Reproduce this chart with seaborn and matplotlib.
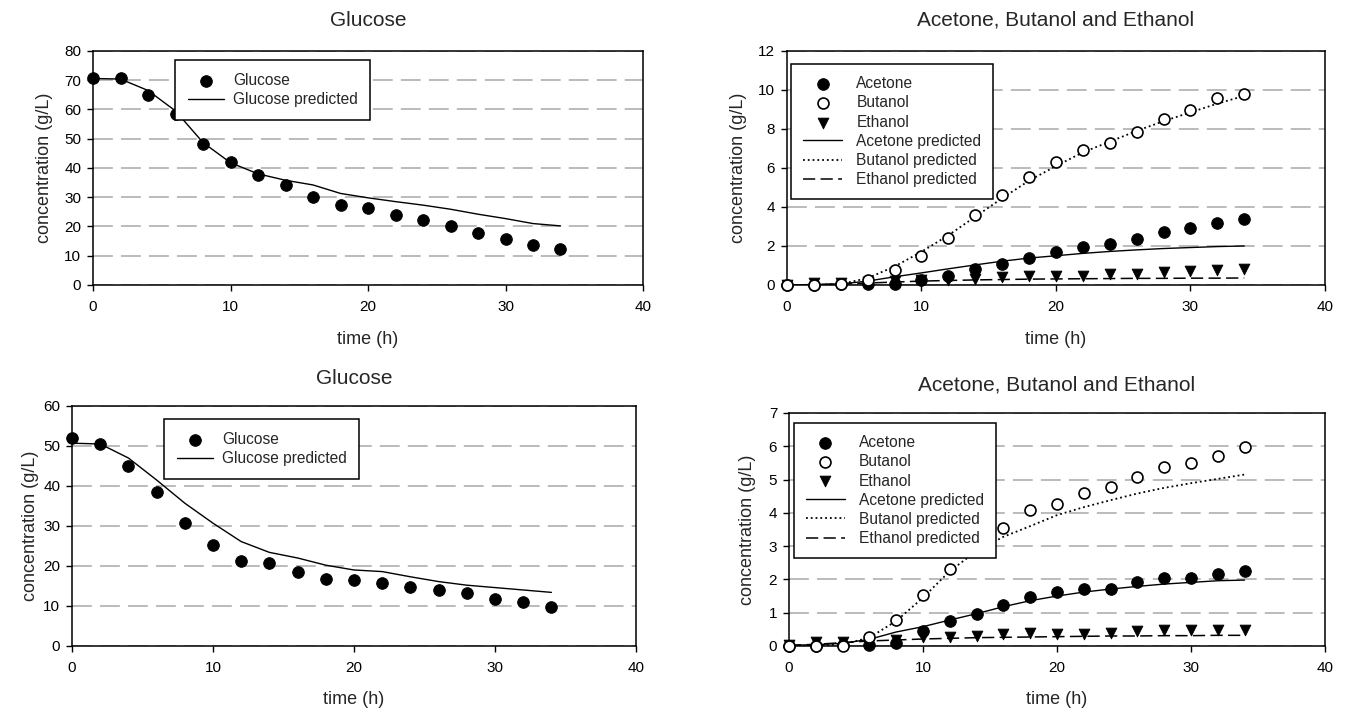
import matplotlib
matplotlib.use("Agg")
import matplotlib.pyplot as plt
import seaborn as sns

# tempo de fermentacao (h)
tempo = [0, 2, 4, 6, 8, 10, 12, 14, 16, 18, 20, 22, 24, 26, 28, 30, 32, 34]

# Ensaio 1 (graficos de cima)
glicose1 = [70.8, 70.8, 64.8, 58.3, 48.3, 42.0, 37.6, 34.1, 30.2, 27.3, 26.4, 23.8, 22.1, 20.0, 17.9, 15.6, 13.5, 12.2]
glicose1Pred = [70.6, 70.4, 66.5, 59.5, 48.7, 41.8, 38.0, 35.8, 34.2, 31.3, 29.8, 28.5, 27.3, 25.9, 24.2, 22.7, 21.0, 20.2]
acetona1 = [0.0, 0.0, 0.03, 0.05, 0.07, 0.25, 0.45, 0.8, 1.1, 1.4, 1.7, 1.95, 2.1, 2.35, 2.7, 2.9, 3.2, 3.4]
butanol1 = [0.0, 0.0, 0.05, 0.28, 0.75, 1.5, 2.4, 3.6, 4.6, 5.55, 6.3, 6.9, 7.3, 7.85, 8.5, 8.95, 9.6, 9.8]
etanol1 = [0.02, 0.12, 0.12, 0.15, 0.18, 0.25, 0.28, 0.32, 0.4, 0.46, 0.46, 0.46, 0.58, 0.55, 0.68, 0.7, 0.76, 0.82]
acetona1Pred = [0.0, 0.02, 0.05, 0.2, 0.42, 0.62, 0.83, 1.03, 1.22, 1.38, 1.5, 1.62, 1.72, 1.8, 1.87, 1.92, 1.97, 2.0]
butanol1Pred = [0.0, 0.0, 0.05, 0.35, 0.95, 1.7, 2.55, 3.5, 4.45, 5.35, 6.1, 6.8, 7.35, 7.9, 8.4, 8.85, 9.3, 9.7]
etanol1Pred = [0.0, 0.02, 0.05, 0.1, 0.15, 0.2, 0.23, 0.26, 0.28, 0.3, 0.31, 0.32, 0.33, 0.34, 0.34, 0.35, 0.35, 0.36]

# Ensaio 2 (graficos de baixo)
glicose2 = [52.0, 50.5, 45.0, 38.5, 30.8, 25.2, 21.3, 20.7, 18.4, 16.8, 16.6, 15.7, 14.7, 14.0, 13.2, 11.8, 11.0, 9.8]
glicose2Pred = [50.7, 50.5, 47.0, 41.5, 35.7, 30.7, 26.1, 23.4, 22.0, 20.2, 19.0, 18.6, 17.3, 16.1, 15.2, 14.6, 14.0, 13.4]
acetona2 = [0.0, 0.0, 0.02, 0.03, 0.1, 0.45, 0.76, 0.96, 1.23, 1.46, 1.62, 1.72, 1.72, 1.92, 2.05, 2.05, 2.17, 2.25]
butanol2 = [0.0, 0.0, 0.0, 0.27, 0.78, 1.53, 2.3, 2.95, 3.54, 4.08, 4.28, 4.6, 4.77, 5.07, 5.38, 5.5, 5.7, 5.98]
etanol2 = [0.02, 0.13, 0.13, 0.1, 0.18, 0.28, 0.28, 0.3, 0.35, 0.38, 0.35, 0.36, 0.38, 0.45, 0.47, 0.48, 0.47, 0.48]
acetona2Pred = [0.02, 0.04, 0.08, 0.2, 0.42, 0.58, 0.78, 0.97, 1.18, 1.36, 1.5, 1.62, 1.71, 1.79, 1.86, 1.91, 1.96, 1.98]
butanol2Pred = [0.0, 0.0, 0.05, 0.25, 0.75, 1.45, 2.25, 2.85, 3.28, 3.6, 3.93, 4.17, 4.38, 4.58, 4.75, 4.89, 5.02, 5.15]
etanol2Pred = [0.02, 0.05, 0.1, 0.15, 0.18, 0.21, 0.23, 0.25, 0.26, 0.27, 0.28, 0.29, 0.3, 0.3, 0.31, 0.31, 0.32, 0.32]

sns.set_style("ticks")
plt.rcParams['font.family'] = ['Liberation Sans', 'DejaVu Sans']
plt.rcParams['axes.edgecolor'] = 'black'
plt.rcParams['axes.linewidth'] = 1.1
plt.rcParams['xtick.color'] = 'black'
plt.rcParams['ytick.color'] = 'black'


def ajustaEixo(ax, ymax, ypasso, titulo, padTitulo, padX, padY):
    ax.set_xlim(0, 40)
    ax.set_ylim(0, ymax)
    ax.set_xticks(range(0, 41, 10))
    ax.set_yticks(range(0, ymax + 1, ypasso))
    ax.tick_params(axis='x', direction='out', length=4, width=1, pad=7, labelsize=11)
    ax.tick_params(axis='y', direction='out', length=4.5, width=1, pad=4, labelsize=11)
    ax.yaxis.grid(True, color='#b5b5b5', linestyle=(0, (11, 4.5)), linewidth=1.3)
    ax.xaxis.grid(False)
    ax.set_axisbelow(True)
    for lado in ['top', 'right', 'left', 'bottom']:
        ax.spines[lado].set_visible(True)
        ax.spines[lado].set_color('black')
    ax.set_title(titulo, fontsize=15, pad=padTitulo)
    ax.set_xlabel('time (h)', fontsize=13, labelpad=padX)
    ax.set_ylabel('concentration (g/L)', fontsize=13, labelpad=padY)


def ajustaLegenda(ax, ancora, espaco, pad, compr, borda):
    leg = ax.legend(loc='upper left', bbox_to_anchor=ancora, borderaxespad=0,
                    fontsize=11.2, frameon=True, fancybox=False, framealpha=1,
                    edgecolor='black', handlelength=compr, handletextpad=pad,
                    labelspacing=espaco, borderpad=borda, scatterpoints=1)
    leg.get_frame().set_linewidth(1.1)
    leg.set_zorder(10)


def geraGlicose(ax, glic, glicPred, ymax, titPad, padX, padY, ancora):
    sns.scatterplot(x=tempo, y=glic, ax=ax, color='black', edgecolor='black',
                    s=70, marker='o', label='Glucose', zorder=4, clip_on=False)
    sns.lineplot(x=tempo, y=glicPred, ax=ax, color='black', linewidth=1.0,
                 label='Glucose predicted', zorder=3)
    ajustaEixo(ax, ymax, 10, 'Glucose', titPad, padX, padY)
    ajustaLegenda(ax, ancora, 0.3, 0.55, 2.35, 0.82)


def geraSolventes(ax, ace, but, eta, acePred, butPred, etaPred, ymax, titPad, padX, padY, ancora):
    sns.scatterplot(x=tempo, y=ace, ax=ax, color='black', edgecolor='black',
                    s=70, marker='o', label='Acetone', zorder=4, clip_on=False)
    sns.scatterplot(x=tempo, y=but, ax=ax, color='white', edgecolor='black', linewidth=1.2,
                    s=62, marker='o', label='Butanol', zorder=5, clip_on=False)
    sns.scatterplot(x=tempo, y=eta, ax=ax, color='black', edgecolor='black',
                    s=60, marker='v', label='Ethanol', zorder=4, clip_on=False)
    sns.lineplot(x=tempo, y=acePred, ax=ax, color='black', linewidth=1.0,
                 label='Acetone predicted', zorder=3)
    sns.lineplot(x=tempo, y=butPred, ax=ax, color='black', linewidth=1.3, linestyle=':',
                 label='Butanol predicted', zorder=3)
    sns.lineplot(x=tempo, y=etaPred, ax=ax, color='black', linewidth=1.1, linestyle=(0, (8, 3.5)),
                 label='Ethanol predicted', zorder=3)
    ajustaEixo(ax, ymax, 2 if ymax == 12 else 1, 'Acetone, Butanol and Ethanol', titPad, padX, padY)
    ajustaLegenda(ax, ancora, 0.27, 0.9, 2.5, 0.78)


fig = plt.figure(figsize=(13.48, 7.13), dpi=100)
ax1 = fig.add_axes([0.0690, 0.6003, 0.4080, 0.3282])
ax2 = fig.add_axes([0.5838, 0.6003, 0.3991, 0.3282])
ax3 = fig.add_axes([0.0534, 0.0940, 0.4184, 0.3366])
ax4 = fig.add_axes([0.5853, 0.0940, 0.3976, 0.3268])

geraGlicose(ax1, glicose1, glicose1Pred, 80, 18, 12, 8, (0.149, 0.962))
geraSolventes(ax2, acetona1, butanol1, etanol1, acetona1Pred, butanol1Pred, etanol1Pred,
              12, 18, 12, 8, (0.008, 0.944))
geraGlicose(ax3, glicose2, glicose2Pred, 60, 16, 11, 3, (0.163, 0.946))
geraSolventes(ax4, acetona2, butanol2, etanol2, acetona2Pred, butanol2Pred, etanol2Pred,
              7, 16, 11, 9, (0.009, 0.957))

fig.savefig('out.png', dpi=100)
